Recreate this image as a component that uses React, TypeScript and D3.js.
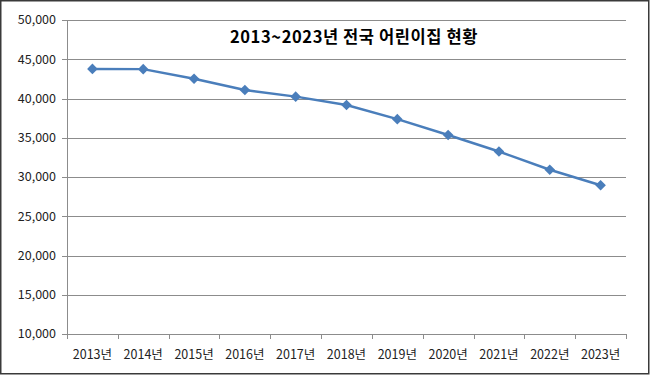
import React from 'react';
import * as d3 from 'd3';

// --- Data ---
const years = ['2013년', '2014년', '2015년', '2016년', '2017년', '2018년', '2019년', '2020년', '2021년', '2022년', '2023년'];
const centers = [43770, 43742, 42517, 41084, 40238, 39171, 37371, 35352, 33246, 30923, 28954];
const yTicks = [10000, 15000, 20000, 25000, 30000, 35000, 40000, 45000, 50000];
const title = '2013~2023년 전국 어린이집 현황';

const W = 650;
const H = 375;
const margin = { top: 20, right: 24, bottom: 41, left: 67 };
const font = '"Noto Sans CJK KR", "Malgun Gothic", sans-serif';

export default function App() {
    const x = d3.scaleBand<string>()
        .domain(years)
        .range([margin.left, W - margin.right]);

    const y = d3.scaleLinear()
        .domain([10000, 50000])
        .range([H - margin.bottom, margin.top]);

    const line = d3.line<number>()
        .x((d, i) => x(years[i])! + x.bandwidth() / 2)
        .y(d => y(d));

    const diamond = d3.symbol().type(d3.symbolDiamond2).size(72)();
    const fmt = d3.format(',');
    const bottom = H - margin.bottom;

    return (
        <div style={{ position: 'absolute', left: 0, top: 0 }}>
            <svg width={W} height={H} style={{ display: 'block' }}>
                <rect x={0} y={0} width={W} height={H} fill="#fff" />
                <rect x={0.75} y={0.75} width={W - 2} height={H - 2} fill="none" stroke="#3a3a3a" strokeWidth={1.5} />

                {/* gridlines */}
                {yTicks.map(t => (
                    <line key={t} x1={margin.left} x2={W - margin.right} y1={Math.round(y(t)) + 0.5} y2={Math.round(y(t)) + 0.5} stroke="#8c8c8c" strokeWidth={1} />
                ))}

                {/* y axis */}
                <line x1={margin.left + 0.5} x2={margin.left + 0.5} y1={margin.top} y2={bottom} stroke="#8c8c8c" />
                {yTicks.map(t => (
                    <g key={t}>
                        <line x1={margin.left - 5} x2={margin.left} y1={Math.round(y(t)) + 0.5} y2={Math.round(y(t)) + 0.5} stroke="#8c8c8c" />
                        <text x={margin.left - 11} y={y(t)} dy="0.35em" textAnchor="end" fontFamily={font} fontSize={12.5} fill="#222">{fmt(t)}</text>
                    </g>
                ))}

                {/* x axis */}
                {years.map((yr, i) => (
                    <g key={yr}>
                        <line x1={Math.round(x(yr)!) + 0.5} x2={Math.round(x(yr)!) + 0.5} y1={bottom} y2={bottom + 5} stroke="#8c8c8c" />
                        <text x={x(yr)! + x.bandwidth() / 2} y={bottom + 21} dy="0.35em" textAnchor="middle" fontFamily={font} fontSize={12.5} fill="#222">{yr}</text>
                    </g>
                ))}
                <line x1={Math.round(W - margin.right) + 0.5} x2={Math.round(W - margin.right) + 0.5} y1={bottom} y2={bottom + 5} stroke="#8c8c8c" />

                {/* series */}
                <path d={line(centers) || ''} fill="none" stroke="#4a7ebb" strokeWidth={2.5} strokeLinejoin="round" />
                {centers.map((v, i) => (
                    <path key={i} d={diamond || ''} transform={`translate(${x(years[i])! + x.bandwidth() / 2},${y(v)})`} fill="#4a7ebb" />
                ))}

                <text x={354} y={37} dy="0.35em" textAnchor="middle" fontFamily={font} fontWeight="bold" fontSize={16.5} letterSpacing={0.6} fill="#000">{title}</text>
            </svg>
        </div>
    );
}
